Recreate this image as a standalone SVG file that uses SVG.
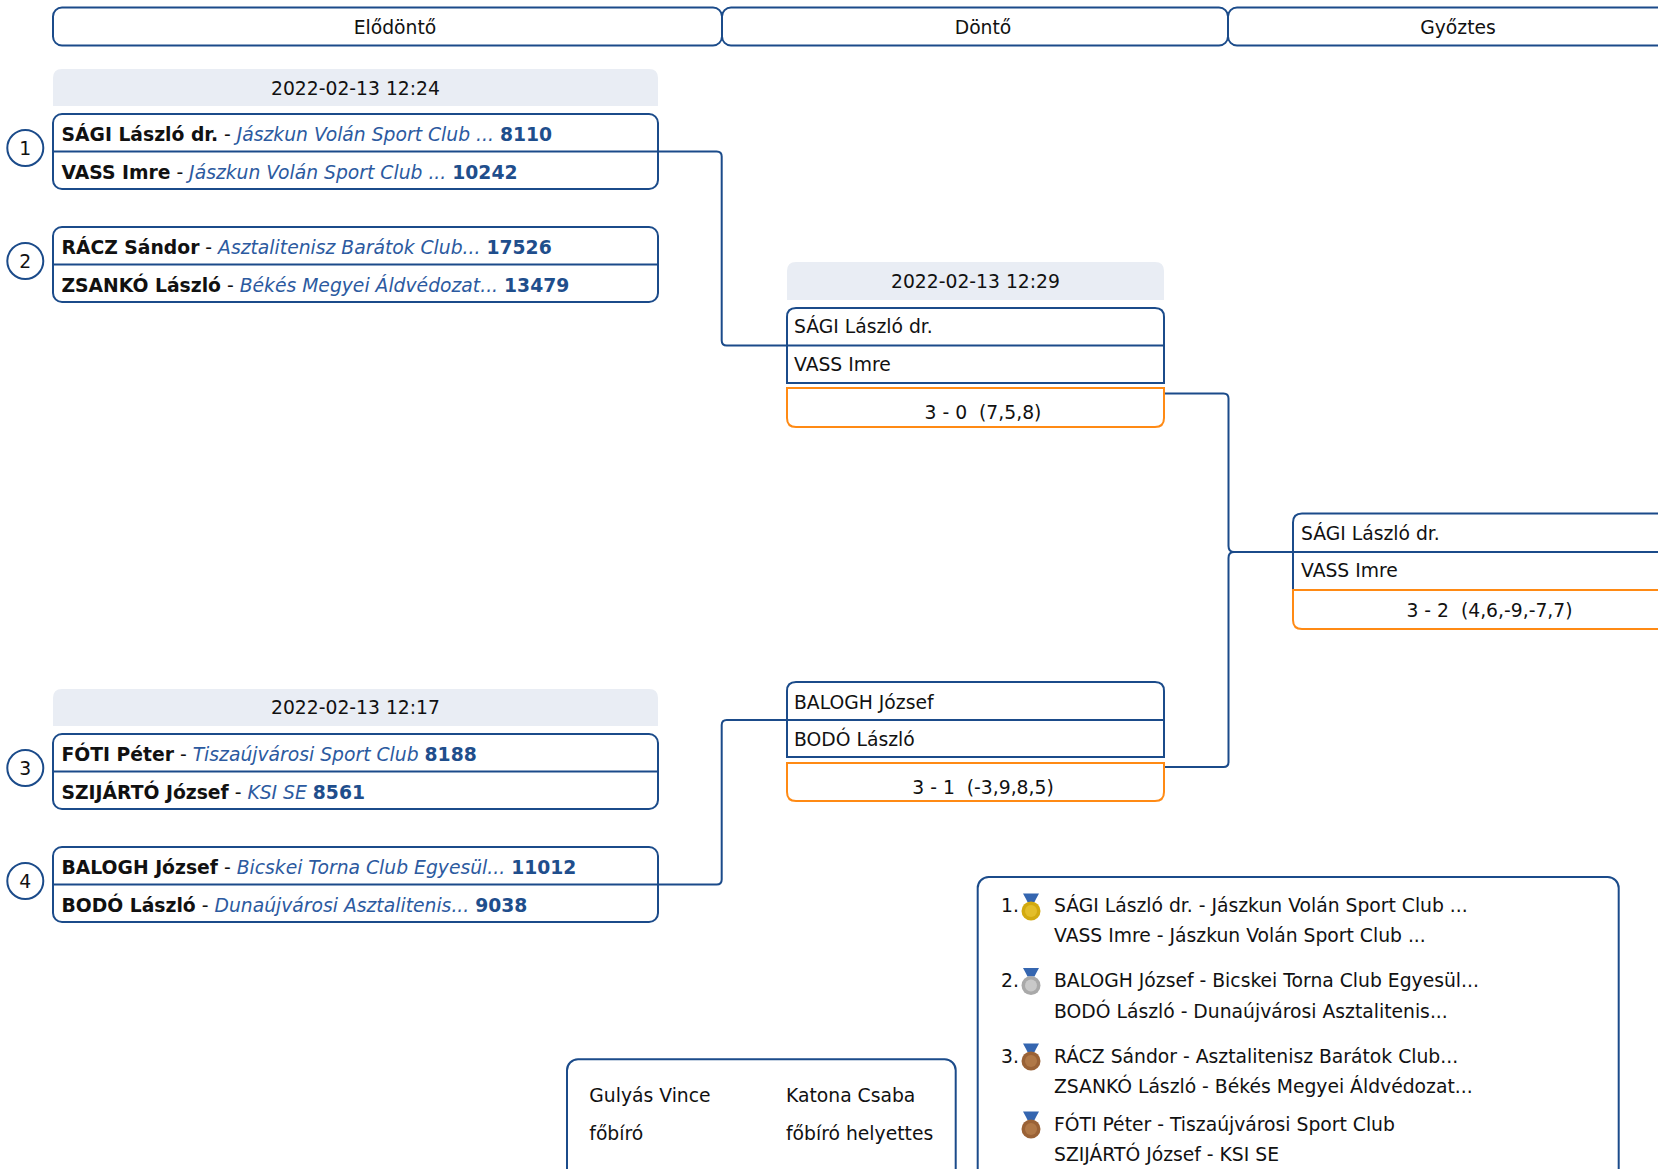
<svg xmlns="http://www.w3.org/2000/svg" width="1658" height="1169" viewBox="0 0 1658 1169">
<style>
text{font-family:"DejaVu Sans","Liberation Sans",sans-serif;font-size:18.75px;fill:#111;white-space:pre}
.b{font-weight:bold}
.club{font-style:italic;fill:#2c5aa0}
.num{font-weight:bold;fill:#1f4e8c}
.c{text-anchor:middle}
.box{fill:#fff;stroke:#1b4b8a;stroke-width:2}
.sep{stroke:#1b4b8a;stroke-width:2}
.date{fill:#e9edf4}
.score{fill:#fff;stroke:#ff8a14;stroke-width:2}
.conn{fill:none;stroke:#1b4b8a;stroke-width:2}
.rib{fill:#3566b0}
</style>
<defs>
<g id="ribbon"><polygon class="rib" points="-8,-17.5 8,-17.5 5,-12 3.5,-9 -3.5,-9 -5,-12"/></g>
</defs>

<g id="headers">
<rect class="box" x="53" y="7.5" width="669" height="38" rx="9"/>
<rect class="box" x="722" y="7.5" width="506" height="38" rx="9"/>
<rect class="box" x="1228" y="7.5" width="445" height="38" rx="9"/>
<text class="c" x="395" y="33.5">Elődöntő</text>
<text class="c" x="983" y="33.5">Döntő</text>
<text class="c" x="1458" y="33.5">Győztes</text>
</g>

<g id="connectors">
<path class="conn" d="M658,151.5 H716.7 Q721.7,151.5 721.7,156.5 V340.5 Q721.7,345.5 726.7,345.5 H787"/>
<path class="conn" d="M658,884.5 H716.7 Q721.7,884.5 721.7,879.5 V725 Q721.7,720 726.7,720 H787"/>
<path class="conn" d="M1164,393.4 H1223.5 Q1228.5,393.4 1228.5,398.4 V546 Q1228.5,552 1234,552 H1293"/>
<path class="conn" d="M1164,767 H1223.5 Q1228.5,767 1228.5,762 V558 Q1228.5,552 1234,552"/>
</g>

<g id="date1">
<path class="date" d="M53,106 V78 Q53,69 62,69 H649 Q658,69 658,78 V106 Z"/>
<text class="c" x="355.5" y="94.5">2022-02-13 12:24</text>
</g>

<g id="match1">
<circle class="box" cx="25.3" cy="148" r="18"/>
<text class="c" x="25.3" y="154.7">1</text>
<rect class="box" x="53" y="114" width="605" height="75" rx="9"/>
<line class="sep" x1="53" y1="151.5" x2="658" y2="151.5"/>
<text x="61.5" y="141"><tspan class="b">SÁGI László dr.</tspan> - <tspan class="club">Jászkun Volán Sport Club ...</tspan> <tspan class="num">8110</tspan></text>
<text x="61.5" y="178.5"><tspan class="b">VASS Imre</tspan> - <tspan class="club">Jászkun Volán Sport Club ...</tspan> <tspan class="num">10242</tspan></text>
</g>

<g id="match2">
<circle class="box" cx="25.3" cy="261" r="18"/>
<text class="c" x="25.3" y="267.7">2</text>
<rect class="box" x="53" y="227" width="605" height="75" rx="9"/>
<line class="sep" x1="53" y1="264.5" x2="658" y2="264.5"/>
<text x="61.5" y="254"><tspan class="b">RÁCZ Sándor</tspan> - <tspan class="club">Asztalitenisz Barátok Club...</tspan> <tspan class="num">17526</tspan></text>
<text x="61.5" y="291.5"><tspan class="b">ZSANKÓ László</tspan> - <tspan class="club">Békés Megyei Áldvédozat...</tspan> <tspan class="num">13479</tspan></text>
</g>

<g id="date3">
<path class="date" d="M53,726 V698 Q53,689 62,689 H649 Q658,689 658,698 V726 Z"/>
<text class="c" x="355.5" y="714.3">2022-02-13 12:17</text>
</g>

<g id="match3">
<circle class="box" cx="25.3" cy="768" r="18"/>
<text class="c" x="25.3" y="774.7">3</text>
<rect class="box" x="53" y="734" width="605" height="75" rx="9"/>
<line class="sep" x1="53" y1="771.5" x2="658" y2="771.5"/>
<text x="61.5" y="761"><tspan class="b">FÓTI Péter</tspan> - <tspan class="club">Tiszaújvárosi Sport Club</tspan> <tspan class="num">8188</tspan></text>
<text x="61.5" y="798.5"><tspan class="b">SZIJÁRTÓ József</tspan> - <tspan class="club">KSI SE</tspan> <tspan class="num">8561</tspan></text>
</g>

<g id="match4">
<circle class="box" cx="25.3" cy="881" r="18"/>
<text class="c" x="25.3" y="887.7">4</text>
<rect class="box" x="53" y="847" width="605" height="75" rx="9"/>
<line class="sep" x1="53" y1="884.5" x2="658" y2="884.5"/>
<text x="61.5" y="874"><tspan class="b">BALOGH József</tspan> - <tspan class="club">Bicskei Torna Club Egyesül...</tspan> <tspan class="num">11012</tspan></text>
<text x="61.5" y="911.5"><tspan class="b">BODÓ László</tspan> - <tspan class="club">Dunaújvárosi Asztalitenis...</tspan> <tspan class="num">9038</tspan></text>
</g>

<g id="final1">
<path class="date" d="M787,300 V271 Q787,262 796,262 H1155 Q1164,262 1164,271 V300 Z"/>
<text class="c" x="975.5" y="288.3">2022-02-13 12:29</text>
<path class="box" d="M787,383 V317 Q787,308 796,308 H1155 Q1164,308 1164,317 V383 Z"/>
<line class="sep" x1="787" y1="345.5" x2="1164" y2="345.5"/>
<text x="794" y="333.2">SÁGI László dr.</text>
<text x="794" y="371.2">VASS Imre</text>
<path class="score" d="M787,388 H1164 V418 Q1164,427 1155,427 H796 Q787,427 787,418 Z"/>
<text class="c" x="983" y="418.5">3 - 0  (7,5,8)</text>
</g>

<g id="final2">
<path class="box" d="M787,757 V691 Q787,682 796,682 H1155 Q1164,682 1164,691 V757 Z"/>
<line class="sep" x1="787" y1="720" x2="1164" y2="720"/>
<text x="794" y="708.8">BALOGH József</text>
<text x="794" y="746.2">BODÓ László</text>
<path class="score" d="M787,763 H1164 V792 Q1164,801 1155,801 H796 Q787,801 787,792 Z"/>
<text class="c" x="983" y="793.5">3 - 1  (-3,9,8,5)</text>
</g>

<g id="winner">
<path class="box" d="M1293,590 V522.5 Q1293,513.5 1302,513.5 H1661 Q1670,513.5 1670,522.5 V590 Z"/>
<line class="sep" x1="1293" y1="552" x2="1670" y2="552"/>
<text x="1301" y="539.5">SÁGI László dr.</text>
<text x="1301" y="577.2">VASS Imre</text>
<path class="score" d="M1293,590 H1670 V620 Q1670,629 1661,629 H1302 Q1293,629 1293,620 Z"/>
<text class="c" x="1489.5" y="617.2">3 - 2  (4,6,-9,-7,7)</text>
</g>

<g id="medals">
<rect class="box" x="977.7" y="877" width="641" height="400" rx="11"/>
<text x="1001" y="911.7">1.</text>
<use href="#ribbon" x="1031" y="911"/>
<circle cx="1031" cy="911" r="9.5" fill="#d2aa10"/>
<circle cx="1031" cy="911" r="6" fill="#e3be2a"/>
<text x="1054" y="911.7">SÁGI László dr. - Jászkun Volán Sport Club ...</text>
<text x="1054" y="941.7">VASS Imre - Jászkun Volán Sport Club ...</text>
<text x="1001" y="987">2.</text>
<use href="#ribbon" x="1031" y="985.5"/>
<circle cx="1031" cy="985.5" r="9.5" fill="#a9a9a9"/>
<circle cx="1031" cy="985.5" r="6" fill="#c9c9c9"/>
<text x="1054" y="987">BALOGH József - Bicskei Torna Club Egyesül...</text>
<text x="1054" y="1017.7">BODÓ László - Dunaújvárosi Asztalitenis...</text>
<text x="1001" y="1062.7">3.</text>
<use href="#ribbon" x="1031" y="1061"/>
<circle cx="1031" cy="1061" r="9.5" fill="#9a6236"/>
<circle cx="1031" cy="1061" r="6" fill="#b07847"/>
<text x="1054" y="1062.7">RÁCZ Sándor - Asztalitenisz Barátok Club...</text>
<text x="1054" y="1093.3">ZSANKÓ László - Békés Megyei Áldvédozat...</text>
<use href="#ribbon" x="1031" y="1129"/>
<circle cx="1031" cy="1129" r="9.5" fill="#9a6236"/>
<circle cx="1031" cy="1129" r="6" fill="#b07847"/>
<text x="1054" y="1131">FÓTI Péter - Tiszaújvárosi Sport Club</text>
<text x="1054" y="1161">SZIJÁRTÓ József - KSI SE</text>
</g>

<g id="referees">
<rect class="box" x="567" y="1059.3" width="388.7" height="200" rx="11"/>
<text x="589.3" y="1102">Gulyás Vince</text>
<text x="589.3" y="1139.5">főbíró</text>
<text x="786" y="1102">Katona Csaba</text>
<text x="786" y="1139.5">főbíró helyettes</text>
</g>
</svg>
